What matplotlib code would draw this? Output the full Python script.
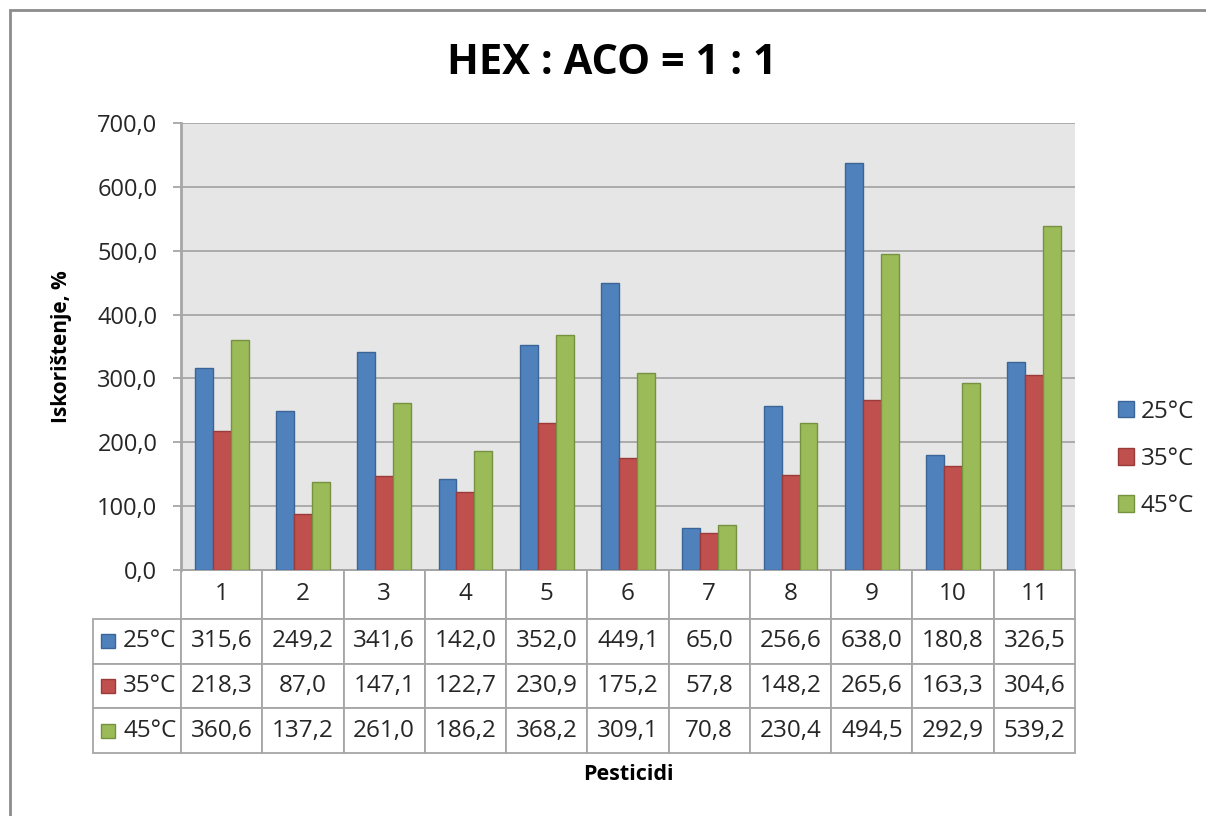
import matplotlib
matplotlib.use("Agg")
import matplotlib.pyplot as plt
import matplotlib.patches as mpatches
from matplotlib.table import Table
import numpy as np

plt.rcParams['font.family'] = ['Open Sans', 'DejaVu Sans']

# podaci
pesticidi = ['1', '2', '3', '4', '5', '6', '7', '8', '9', '10', '11']
serije = ['25°C', '35°C', '45°C']
v25 = [315.6, 249.2, 341.6, 142.0, 352.0, 449.1, 65.0, 256.6, 638.0, 180.8, 326.5]
v35 = [218.3, 87.0, 147.1, 122.7, 230.9, 175.2, 57.8, 148.2, 265.6, 163.3, 304.6]
v45 = [360.6, 137.2, 261.0, 186.2, 368.2, 309.1, 70.8, 230.4, 494.5, 292.9, 539.2]
y_ticks = [0, 100, 200, 300, 400, 500, 600, 700]

boje = ['#4F81BD', '#C0504D', '#9BBB59']
rubovi = ['#3A6596', '#9A3B39', '#76913F']
siva = '#A6A6A6'


def fmt(v):
    return f"{v:.1f}".replace('.', ',')


W, H = 1206, 816
fig = plt.figure(figsize=(W / 100, H / 100), dpi=100)

# okvir grafikona
fig.patches.append(mpatches.Rectangle((10 / W, -0.05), 1.1, 1 - 10 / H + 0.05,
                                      transform=fig.transFigure, fill=False,
                                      edgecolor='#8C8C8C', linewidth=2))

ax = fig.add_axes([181 / W, 246 / H, 894 / W, 447 / H])
ax.set_facecolor('#E6E6E6')

x = np.arange(len(pesticidi))
w = 0.221
for i, vals in enumerate([v25, v35, v45]):
    ax.bar(x + (i - 1) * w, vals, w, color=boje[i], edgecolor=rubovi[i],
           linewidth=1, label=serije[i], zorder=3)

ax.set_xlim(-0.5, len(pesticidi) - 0.5)
ax.set_ylim(0, 700)
ax.set_yticks(y_ticks)
ax.yaxis.set_major_formatter(lambda v, p: fmt(v))
ax.set_xticks([])
ax.grid(axis='y', color=siva, linewidth=1.3)
ax.set_axisbelow(True)
for s in ['top', 'right']:
    ax.spines[s].set_visible(False)
ax.spines['left'].set_color(siva)
ax.spines['left'].set_linewidth(2)
ax.spines['bottom'].set_color(siva)
ax.spines['bottom'].set_linewidth(1.3)
ax.tick_params(axis='y', length=6, width=1.3, color=siva, labelsize=17,
               pad=11, labelcolor='#262626')

# tablica s podacima
hdr_h = 49 / 447
row_h = 44.7 / 447
lab_w = 88 / 894
col_w = 1 / len(pesticidi)
tbl = Table(ax, bbox=[0, -(hdr_h + 3 * row_h), 1, hdr_h + 3 * row_h])
for j, p in enumerate(pesticidi):
    tbl.add_cell(0, j, col_w, hdr_h, text=p, loc='center')
for i, vals in enumerate([v25, v35, v45]):
    tbl.add_cell(i + 1, -1, lab_w, row_h, text=serije[i], loc='right')
    for j, v in enumerate(vals):
        tbl.add_cell(i + 1, j, col_w, row_h, text=fmt(v), loc='center')
tbl.auto_set_font_size(False)
tbl.set_fontsize(17.5)
for (r, c), cell in tbl.get_celld().items():
    cell.set_edgecolor(siva)
    cell.set_linewidth(1.3)
    cell.get_text().set_color('#262626')
    if c == -1:
        cell.PAD = 0.05
ax.add_table(tbl)

# kvadratici u zaglavlju redaka
for i in range(3):
    yc = -hdr_h - (i + 0.5) * row_h
    ax.add_patch(mpatches.Rectangle((-80 / 894, yc - 7 / 447), 14 / 894, 14 / 447,
                                    transform=ax.transAxes, clip_on=False,
                                    facecolor=boje[i], edgecolor=rubovi[i],
                                    linewidth=1, zorder=5))

ax.legend(loc='center left', bbox_to_anchor=(1096 / W, 1 - 459 / H),
          bbox_transform=fig.transFigure, frameon=False, fontsize=17.5,
          handlelength=0.65, handleheight=0.65, handletextpad=0.3,
          labelspacing=0.95, labelcolor='#262626')

fig.text(612 / W, 1 - 64 / H, 'HEX : ACO = 1 : 1', ha='center', va='center',
         fontsize=30, fontweight='bold')
fig.text(628 / W, 1 - 775 / H, 'Pesticidi', ha='center', va='center',
         fontsize=15.5, fontweight='bold')
fig.text(61 / W, 1 - 347 / H, 'Iskorištenje, %', ha='center', va='center',
         rotation=90, fontsize=15, fontweight='bold')

fig.savefig('out.png', dpi=100)
